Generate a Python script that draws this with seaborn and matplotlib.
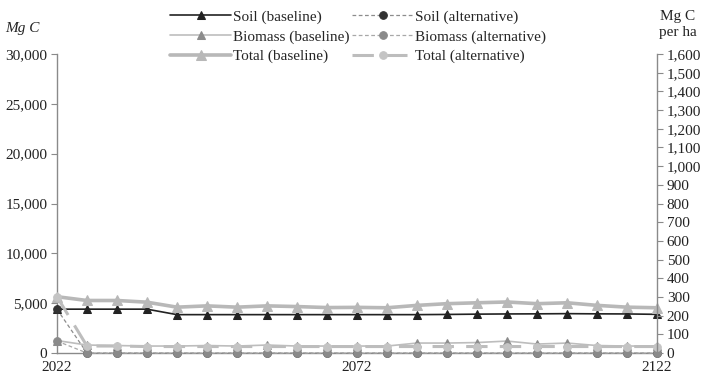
import matplotlib
matplotlib.use("Agg")
import matplotlib.pyplot as plt
import seaborn as sns
from matplotlib.ticker import FuncFormatter

# data (Mg C, every 5 years)
years = [2022, 2027, 2032, 2037, 2042, 2047, 2052, 2057, 2062, 2067, 2072,
         2077, 2082, 2087, 2092, 2097, 2102, 2107, 2112, 2117, 2122]
soil_base = [4400, 4400, 4400, 4400, 3850, 3850, 3850, 3850, 3850, 3850, 3850,
             3850, 3850, 3870, 3900, 3920, 3930, 3950, 3930, 3920, 3880]
biomass_base = [1250, 800, 750, 700, 700, 750, 700, 800, 700, 700, 700,
                700, 1000, 1000, 1050, 1200, 900, 1000, 750, 700, 700]
total_base = [5650, 5270, 5270, 5100, 4600, 4730, 4600, 4730, 4660, 4560, 4580,
              4540, 4780, 4950, 5040, 5120, 4950, 5040, 4780, 4600, 4540]
soil_alt = [4400, 0, 0, 0, 0, 0, 0, 0, 0, 0, 0,
            0, 0, 0, 0, 0, 0, 0, 0, 0, 0]
biomass_alt = [1200, 0, 0, 0, 0, 0, 0, 0, 0, 0, 0,
               0, 0, 0, 0, 0, 0, 0, 0, 0, 0]
total_alt = [5650, 700, 700, 650, 650, 650, 650, 650, 650, 650, 650,
             650, 650, 650, 650, 650, 650, 650, 650, 650, 650]
xtick_labels = [2022, 2072, 2122]

sns.set_theme(style="white")
plt.rcParams['font.family'] = ['Liberation Serif', 'DejaVu Serif']
plt.rcParams['font.size'] = 11

fig = plt.figure(figsize=(7.06, 3.74), dpi=100)
ax = fig.add_axes([0.0807, 0.0561, 0.85, 0.7995])

series = [
    (soil_base, "Soil (baseline)", dict(color="#222222", lw=1.2, marker="^", ms=5.5, mfc="#222222", mec="#222222")),
    (biomass_base, "Biomass (baseline)", dict(color="#bdbdbd", lw=1.2, marker="^", ms=5.5, mfc="#8c8c8c", mec="#8c8c8c")),
    (total_base, "Total (baseline)", dict(color="#b8b8b8", lw=2.6, marker="^", ms=6.5, mfc="#b8b8b8", mec="#b8b8b8")),
    (soil_alt, "Soil (alternative)", dict(color="#8c8c8c", lw=0.9, dashes=(3, 2), marker="o", ms=5.5, mfc="#333333", mec="#333333")),
    (biomass_alt, "Biomass (alternative)", dict(color="#a8a8a8", lw=0.9, dashes=(3, 2), marker="o", ms=5.5, mfc="#8a8a8a", mec="#8a8a8a")),
    (total_alt, "Total (alternative)", dict(color="#bdbdbd", lw=2.2, dashes=(7, 4), marker="o", ms=5.5, mfc="#c4c4c4", mec="#c4c4c4")),
]

for vals, name, kw in series:
    sns.lineplot(x=years, y=vals, ax=ax, label=name, clip_on=False, zorder=3, **kw)

handles, labels = ax.get_legend_handles_labels()
ax.get_legend().remove()

ax.set_xlim(2022, 2122)
ax.set_ylim(0, 30000)
ax.set_xticks(xtick_labels)
ax.set_yticks(range(0, 30001, 5000))
ax.yaxis.set_major_formatter(FuncFormatter(lambda v, p: f"{int(v):,}"))
ax.set_xlabel("")
ax.set_ylabel("")

ax2 = ax.twinx()
ax2.set_ylim(0, 1600)
ax2.set_yticks(range(0, 1601, 100))
ax2.yaxis.set_major_formatter(FuncFormatter(lambda v, p: f"{int(v):,}"))

for a in (ax, ax2):
    a.spines["top"].set_visible(False)
    for side in ("left", "right", "bottom"):
        a.spines[side].set_color("#8a8a8a")
        a.spines[side].set_linewidth(1.0)
    a.tick_params(colors="#8a8a8a", labelcolor="#222222", labelsize=11, length=4, width=0.8)
ax.spines["right"].set_visible(False)
ax2.spines["left"].set_visible(False)
ax2.spines["bottom"].set_visible(False)
ax.tick_params(axis="x", direction="inout", length=6, pad=3)
ax.tick_params(axis="y", direction="out", pad=3)
ax2.tick_params(axis="y", direction="out", pad=3)

fig.text(0.008, 0.915, "Mg C", fontsize=11, style="italic", color="#222222")
fig.text(0.96, 0.905, "Mg C\nper ha", fontsize=11, color="#222222", ha="center", linespacing=1.3)

fig.legend(handles, labels, loc="upper center", bbox_to_anchor=(0.507, 1.01), ncol=2,
           frameon=False, fontsize=11, handlelength=4.0, columnspacing=0.2,
           labelspacing=0.38, handletextpad=0.1)

fig.savefig("out.png", dpi=100)
